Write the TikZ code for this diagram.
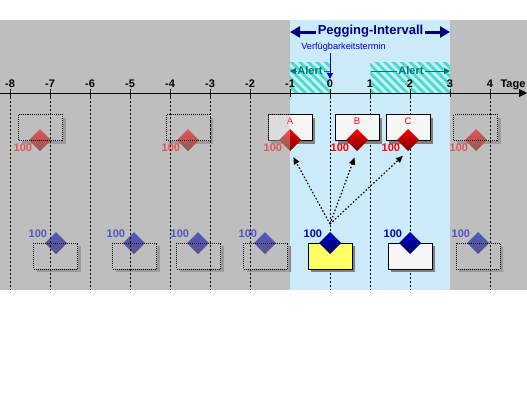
\documentclass[tikz,border=0pt]{standalone}
\usepackage{fontspec}
\setmainfont{Liberation Sans}
\usetikzlibrary{arrows.meta,shapes.geometric,shadows,patterns.meta}
\definecolor{bggray}{HTML}{BEBEBE}
\definecolor{pegblue}{HTML}{CCEBFA}
\definecolor{navy}{HTML}{000080}
\definecolor{vblue}{HTML}{0000CC}
\definecolor{tealtxt}{HTML}{007878}
\definecolor{hatchc}{HTML}{40E0C8}
\definecolor{shadowgray}{HTML}{808080}
\definecolor{redtxt}{HTML}{FF0000}
\definecolor{bluetxt}{HTML}{0000C0}
\definecolor{yel}{HTML}{FFFF66}
\definecolor{boxwhite}{HTML}{F6F6F6}
\begin{document}
\begin{tikzpicture}[x=1pt,y=-1pt,
  every node/.style={inner sep=0pt,outer sep=0pt},
  box/.style={draw=black,line width=0.9pt,minimum width=44pt,minimum height=26pt,fill=#1,
    drop shadow={shadow xshift=3pt,shadow yshift=-3pt,fill=shadowgray,opacity=1}},
  ghostbox/.style={minimum width=44pt,minimum height=26pt,fill=bggray,
    drop shadow={shadow xshift=3pt,shadow yshift=-3pt,fill=shadowgray,opacity=1}},
  reddia/.style={diamond,minimum width=22pt,minimum height=22pt,top color=red,bottom color=red!45!black},
  bluedia/.style={diamond,minimum width=22pt,minimum height=22pt,top color=blue!80!black,bottom color=blue!35!black},
  num/.style={font=\fontsize{11}{13}\selectfont\bfseries},
  rednum/.style={num,text=redtxt,anchor=east},
  bluenum/.style={num,text=bluetxt,anchor=east},
  letter/.style={font=\fontsize{9.5}{11}\selectfont,text=redtxt},
  alerttxt/.style={font=\fontsize{11}{13}\selectfont\bfseries,text=tealtxt,inner xsep=1pt},
  alertarrow/.style={tealtxt,line width=1pt},
  dashline/.style={line width=0.8pt,dash pattern=on 2pt off 2pt},
  ghostline/.style={line width=0.9pt,dash pattern=on 1pt off 1pt},
  peglink/.style={line width=1.2pt,dash pattern=on 1.5pt off 2pt,-{Triangle[length=7pt,width=6pt]},shorten >=7pt}
]
\useasboundingbox (0,0) rectangle (527,407);
% backgrounds
\fill[bggray] (0,20) rectangle (527,290);
\fill[pegblue] (290,20) rectangle (450,290);
% alert hatch
\fill[pattern={Lines[angle=-45,distance=6pt,line width=2.8pt]},pattern color=hatchc] (290,62) rectangle (330,93);
\fill[pattern={Lines[angle=-45,distance=6pt,line width=2.8pt]},pattern color=hatchc] (370,62) rectangle (450,93);
% inside dashed lines
\foreach \d in {0,1,2}{
  \draw[dashline] ({330+40*\d},97) -- ({330+40*\d},290);
}
% top row boxes
\node[ghostbox] (gt1) at (40.5,127.5) {};
\node[ghostbox] (gt2) at (188,127.5) {};
\node[ghostbox] (gt3) at (475.5,127.5) {};
\node[box=boxwhite] (bA) at (290,127.5) {};
\node[box=boxwhite] (bB) at (357,127.5) {};
\node[box=boxwhite] (bC) at (408,127.5) {};
\node[letter] (lA) at (290,121.5) {A};
\node[letter] (lB) at (357,121.5) {B};
\node[letter] (lC) at (408,121.5) {C};
\node[reddia] (dg1) at (40,140) {};
\node[reddia] (dg2) at (188,140) {};
\node[reddia] (dg3) at (476,140) {};
\node[reddia] (dA) at (290,140) {};
\node[reddia] (dB) at (357,140) {};
\node[reddia] (dC) at (408,140) {};
\node[rednum] (ng1) at (32,147.5) {100};
\node[rednum] (ng2) at (180,147.5) {100};
\node[rednum] (ng3) at (468,147.5) {100};
\node[rednum] (nA) at (282,147.5) {100};
\node[rednum] (nB) at (349,147.5) {100};
\node[rednum] (nC) at (400,147.5) {100};
% bottom row boxes
\node[ghostbox] (gb1) at (55.5,256) {};
\node[ghostbox] (gb2) at (134.5,256) {};
\node[ghostbox] (gb3) at (198.5,256) {};
\node[ghostbox] (gb4) at (265.5,256) {};
\node[ghostbox] (gb5) at (478,256) {};
\node[box=yel] (bY) at (330,256) {};
\node[box=boxwhite] (bW) at (410,256) {};
\node[bluedia] (db1) at (56,243) {};
\node[bluedia] (db2) at (134,243) {};
\node[bluedia] (db3) at (198,243) {};
\node[bluedia] (db4) at (265,243) {};
\node[bluedia] (db5) at (478,243) {};
\node[bluedia] (dY) at (330,243) {};
\node[bluedia] (dW) at (410,243) {};
\node[bluenum] (nb1) at (47,233.5) {100};
\node[bluenum] (nb2) at (125,233.5) {100};
\node[bluenum] (nb3) at (189,233.5) {100};
\node[bluenum] (nb4) at (257,233.5) {100};
\node[bluenum] (nb5) at (470,233.5) {100};
\node[bluenum] (nY) at (322,233.5) {100};
\node[bluenum] (nW) at (402,233.5) {100};
% fade outside the pegging interval
\fill[bggray,opacity=0.45] (0,98) rectangle (290,290);
\fill[bggray,opacity=0.45] (450,98) rectangle (527,290);
% ghost outlines
\foreach \g in {gt1,gt2,gt3,gb1,gb2,gb3,gb4,gb5}{
  \draw[ghostline] (\g.north west) rectangle (\g.south east);
}
\draw[ghostline] (bA.north west) -- (bA.north west -| 290,0);
\draw[ghostline] (bA.north west) -- (bA.south west);
% outside dashed lines
\foreach \d in {-8,-7,-6,-5,-4,-3,-2,4}{
  \draw[dashline] ({330+40*\d},97) -- ({330+40*\d},290);
}
% axis
\coordinate (axL) at (0,93);
\coordinate (axR) at (527,93);
\draw[line width=0.9pt,-{Triangle[length=8pt,width=8pt]}] (axL) -- (axR);
\foreach \d in {-8,-7,-6,-5,-4,-3,-2,-1,0,1,2,3,4}{
  \draw[line width=0.9pt] ({330+40*\d},89) -- ({330+40*\d},97);
  \node[num] (tick\d) at ({330+40*\d},84) {\d};
}
\node[num] (tage) at (513,84.5) {Tage};
% alerts
\node[alerttxt] (al1) at (310,70.5) {Alert};
\coordinate (al1L) at (290,71);
\coordinate (al1R) at (330,71);
\draw[alertarrow,-{Triangle[length=6pt,width=6pt]}] (al1.west |- al1L) -- (al1L);
\draw[alertarrow] (al1.east |- al1R) -- (al1R);
\node[alerttxt] (al2) at (411,70.5) {Alert};
\coordinate (al2L) at (371,71);
\coordinate (al2R) at (450,71);
\draw[alertarrow] (al2.west |- al2L) -- (al2L);
\draw[alertarrow,-{Triangle[length=6pt,width=6pt]}] (al2.east |- al2R) -- (al2R);
% Verfuegbarkeitstermin
\node[font=\fontsize{9.2}{11}\selectfont,text=vblue] (vt) at (343.5,47) {Verfügbarkeitstermin};
\coordinate (vA) at (330,52.5);
\coordinate (vB) at (330,79);
\draw[vblue,line width=1pt,-{Triangle[length=6pt,width=6pt]}] (vA) -- (vB);
% pegging interval
\node[font=\fontsize{13}{15}\selectfont\bfseries,text=navy,inner xsep=1.5pt] (peg) at (370.5,31) {Pegging-Intervall};
\coordinate (pegL) at (290,32);
\coordinate (pegR) at (450,32);
\draw[navy,line width=3pt,-{Triangle[length=10pt,width=11pt]}] (peg.west |- pegL) -- (pegL);
\draw[navy,line width=3pt,-{Triangle[length=10pt,width=11pt]}] (peg.east |- pegR) -- (pegR);
% pegging links
\coordinate (src) at (330,224);
\draw[peglink] (src) -- (dA.south);
\draw[peglink] (src) -- (dB.south);
\draw[peglink] (src) -- (dC.south);
\end{tikzpicture}
\end{document}
